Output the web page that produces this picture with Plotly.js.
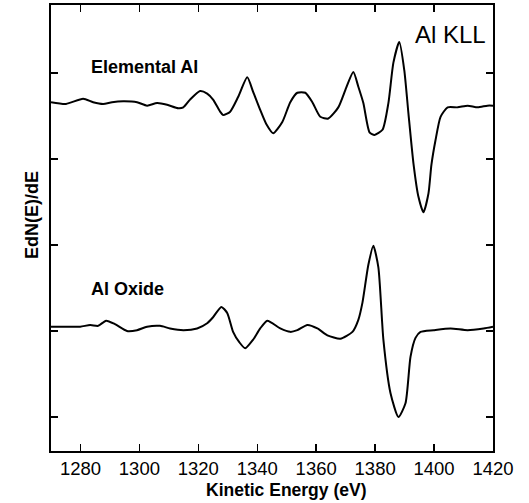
<!DOCTYPE html>
<html>
<head>
<meta charset="utf-8">
<script src="https://cdn.plot.ly/plotly-3.0.1.min.js"></script>
<style>
  html, body { margin: 0; padding: 0; background: #fff; }
  #chart { width: 529px; height: 503px; }
</style>
</head>
<body>
<div id="chart"></div>
<script>
// Al KLL Auger spectra (derivative mode), elemental Al and Al oxide
const elementalEnergy = [
  1270, 1275.1, 1280.9, 1284.3, 1287.7, 1290.7, 1294.5, 1299.2, 1302.6, 1306.0,
  1309.4, 1313.2, 1314.9, 1317.2, 1320.6, 1323.0, 1325.0, 1327.4, 1328.4, 1330.8,
  1333.5, 1336.6, 1338.6, 1341.0, 1343.0, 1345.4, 1348.5, 1351.2, 1353.6, 1356.3,
  1358.7, 1361.4, 1364.1, 1367.5, 1370.2, 1372.6, 1374.3, 1376.0, 1378.1, 1379.8,
  1382.5, 1384.5, 1386.2, 1388.2, 1389.9, 1391.3, 1393.0, 1394.7, 1396.4, 1398.1,
  1399.1, 1400.5, 1402.2, 1404.6, 1408.0, 1411.4, 1414.8, 1418.1, 1420
];
const elementalSignal = [
  3.66, 3.64, 3.70, 3.66, 3.64, 3.66, 3.67, 3.66, 3.62, 3.65,
  3.63, 3.59, 3.60, 3.69, 3.79, 3.76, 3.69, 3.55, 3.51, 3.55,
  3.72, 3.95, 3.78, 3.57, 3.41, 3.30, 3.43, 3.66, 3.77, 3.77,
  3.66, 3.49, 3.47, 3.60, 3.83, 4.01, 3.84, 3.65, 3.31, 3.28,
  3.34, 3.65, 4.12, 4.36, 4.03, 3.53, 2.95, 2.56, 2.38, 2.60,
  2.93, 3.22, 3.49, 3.60, 3.60, 3.62, 3.60, 3.62, 3.62
];

const oxideEnergy = [
  1270, 1274.8, 1279.9, 1283.3, 1286.0, 1288.7, 1291.7, 1295.8, 1299.2, 1302.6,
  1307.0, 1310.4, 1314.9, 1319.6, 1323.0, 1325.0, 1327.8, 1329.8, 1331.8, 1333.9,
  1335.9, 1338.6, 1341.0, 1343.4, 1347.8, 1351.2, 1353.6, 1357.0, 1360.4, 1363.8,
  1368.2, 1372.3, 1374.3, 1375.7, 1377.7, 1379.4, 1381.1, 1382.8, 1385.2, 1387.9,
  1390.3, 1392.0, 1393.7, 1395.4, 1399.8, 1405.6, 1411.4, 1416.8, 1420
];
const oxideSignal = [
  1.05, 1.05, 1.05, 1.07, 1.06, 1.12, 1.08, 1.00, 1.01, 1.05,
  1.06, 1.03, 1.01, 1.03, 1.09, 1.16, 1.28, 1.21, 0.99, 0.87,
  0.80, 0.90, 1.03, 1.12, 1.03, 0.99, 1.01, 1.07, 1.03, 0.95,
  0.91, 0.99, 1.13, 1.33, 1.77, 1.99, 1.74, 0.90, 0.28, 0.00,
  0.16, 0.70, 0.92, 0.99, 1.01, 1.03, 1.01, 1.03, 1.05
];

const xTicks = [1280, 1300, 1320, 1340, 1360, 1380, 1400, 1420];
const yTicks = [0, 1, 2, 3, 4];

const FONT = 'Liberation Sans, Arial, Helvetica, sans-serif';
const lineStyle = { color: '#000', width: 2, shape: 'spline', smoothing: 0.6 };

const traces = [
  { x: elementalEnergy, y: elementalSignal, mode: 'lines', line: lineStyle,
    name: 'Elemental Al', hoverinfo: 'skip' },
  { x: oxideEnergy, y: oxideSignal, mode: 'lines', line: lineStyle,
    name: 'Al Oxide', hoverinfo: 'skip' }
];

const axisCommon = {
  showline: true, linecolor: '#000', linewidth: 2, mirror: 'ticks',
  ticks: 'inside', ticklen: 7, tickwidth: 1.5, tickcolor: '#000',
  showgrid: false, zeroline: false
};

const layout = {
  width: 529, height: 503,
  margin: { l: 51, r: 36, t: 5, b: 52 },
  paper_bgcolor: '#fff', plot_bgcolor: '#fff',
  showlegend: false,
  font: { family: FONT, color: '#000' },
  xaxis: Object.assign({}, axisCommon, {
    range: [1270, 1420],
    tickmode: 'array', tickvals: xTicks, ticktext: xTicks.map(String),
    tickfont: { family: FONT, size: 18.5, color: '#000' }
  }),
  yaxis: Object.assign({}, axisCommon, {
    range: [-0.395, 4.79],
    tickmode: 'array', tickvals: yTicks, showticklabels: false
  }),
  annotations: [
    { text: '<b>Elemental Al</b>', x: 1282.8, y: 4.07, xref: 'x', yref: 'y',
      xanchor: 'left', yanchor: 'middle', showarrow: false,
      font: { family: FONT, size: 18, color: '#000' } },
    { text: '<b>Al Oxide</b>', x: 1282.8, y: 1.49, xref: 'x', yref: 'y',
      xanchor: 'left', yanchor: 'middle', showarrow: false,
      font: { family: FONT, size: 18, color: '#000' } },
    { text: 'Al KLL', x: 1418.3, y: 4.45, xref: 'x', yref: 'y',
      xanchor: 'right', yanchor: 'middle', showarrow: false,
      font: { family: FONT, size: 24, color: '#000' } },
    { text: '<b>Kinetic Energy (eV)</b>', x: 0.532, y: -0.087, xref: 'paper', yref: 'paper',
      xanchor: 'center', yanchor: 'middle', showarrow: false,
      font: { family: FONT, size: 17.5, color: '#000' } },
    { text: '<b>EdN(E)/dE</b>', x: -0.043, y: 0.529, xref: 'paper', yref: 'paper',
      xanchor: 'center', yanchor: 'middle', showarrow: false, textangle: -90,
      font: { family: FONT, size: 18, color: '#000' } }
  ]
};

Plotly.newPlot('chart', traces, layout, { staticPlot: true, displayModeBar: false });
</script>
</body>
</html>
